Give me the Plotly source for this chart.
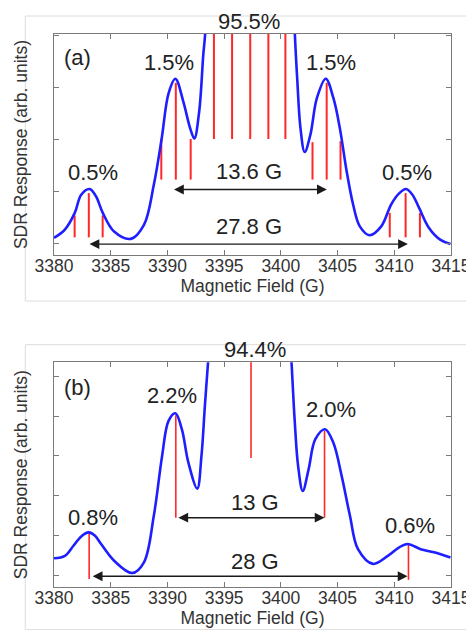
import plotly.graph_objects as go
from plotly.subplots import make_subplots

# ---------------- data: panel (a) ----------------
a_field = [3380.0, 3380.96, 3381.83, 3382.4, 3383.14, 3383.7, 3384.3, 3385.3, 3386.77, 3387.93, 3388.8,
           3389.5, 3390.1, 3390.7, 3391.4, 3392.0, 3392.37, 3392.8, 3393.16, 3393.33,
           3393.6, 3397.3, 3400.95, 3401.23, 3401.44, 3401.73, 3402.1, 3402.6, 3403.18,
           3403.96, 3404.63, 3405.2, 3405.8, 3406.37, 3406.96, 3407.83, 3408.85, 3409.72,
           3410.4, 3411.03, 3411.6, 3412.2, 3413.06, 3414.08, 3414.95]
a_signal = [0.10, 0.26, 0.58, 0.93, 1.04, 0.90, 0.58, 0.22, 0.08, 0.35, 1.12,
            2.02, 2.88, 3.16, 2.72, 2.21, 2.01, 2.53, 3.62, 4.04,
            6.0, 9.0, 6.0, 4.04, 3.17, 2.21, 1.75, 2.08, 2.79,
            3.16, 2.79, 2.21, 1.38, 0.74, 0.32, 0.15, 0.32, 0.74,
            0.95, 1.04, 0.93, 0.67, 0.29, 0.06, -0.02]

a_stick_field = [3381.82, 3383.07, 3384.29,
                 3389.46, 3390.74, 3392.05,
                 3394.1, 3395.7, 3397.3, 3398.9, 3400.4,
                 3402.79, 3404.04, 3405.26,
                 3409.6, 3411.0, 3412.26]
a_stick_top = [0.53, 0.96, 0.53,
               2.0, 3.08, 2.0,
               12, 12, 12, 12, 12,
               1.94, 3.08, 1.96,
               0.58, 0.96, 0.58]
a_stick_base = [0.11, 0.11, 0.11,
                1.22, 1.22, 1.22,
                2.0, 2.0, 2.0, 2.0, 2.0,
                1.22, 1.22, 1.22,
                0.11, 0.11, 0.11]

a_labels = ["95.5%", "1.5%", "1.5%", "0.5%", "0.5%", "(a)", "13.6 G", "27.8 G"]
a_label_x = [3397.2, 3390.1, 3404.4, 3383.4, 3411.1, 3382.1, 3397.2, 3397.2]
a_label_y = [4.26, 3.48, 3.48, 1.36, 1.36, 3.57, 1.38, 0.31]

a_arrow_start = [3390.45, 3383.0]
a_arrow_end = [3404.05, 3411.2]
a_arrow_y = [1.03, -0.02]

# ---------------- data: panel (b) ----------------
b_field = [3380.0, 3380.96, 3381.7, 3382.4, 3383.05, 3383.6, 3384.15, 3385.3, 3386.9, 3387.93, 3388.8,
           3389.53, 3390.1, 3390.7, 3391.27, 3391.85, 3392.63, 3393.0, 3393.3, 3393.6,
           3394.0, 3397.3, 3400.6, 3400.94, 3401.23, 3401.52, 3401.93, 3402.45, 3403.04,
           3403.9, 3404.63, 3405.36, 3406.09, 3406.8, 3408.12, 3409.43, 3410.4, 3411.17, 3412.33,
           3413.5, 3414.95]
b_signal = [0.43, 0.49, 0.74, 0.98, 1.08, 1.0, 0.79, 0.37, 0.06, 0.33, 1.5,
            3.0, 3.88, 4.07, 3.67, 2.83, 2.18, 3.0, 4.25, 5.42,
            7.0, 10.0, 7.0, 5.35, 3.84, 2.75, 2.12, 2.67, 3.42,
            3.67, 3.33, 2.5, 1.5, 0.66, 0.29, 0.49, 0.70, 0.79, 0.66,
            0.58, 0.45]

b_stick_field = [3383.1, 3390.74, 3397.37, 3403.85, 3411.25]
b_stick_top = [1.08, 4.02, 12, 3.63, 0.79]
b_stick_base = [-0.09, 1.45, 2.95, 1.45, -0.11]

b_labels = ["94.4%", "2.2%", "2.0%", "0.8%", "0.6%", "(b)", "13 G", "28 G"]
b_label_x = [3397.7, 3390.4, 3404.4, 3383.4, 3411.4, 3382.1, 3397.7, 3397.7]
b_label_y = [5.66, 4.52, 4.16, 1.46, 1.26, 4.72, 1.82, 0.34]

b_arrow_start = [3390.83, 3383.28]
b_arrow_end = [3403.85, 3411.17]
b_arrow_y = [1.45, -0.02]

x_ticks = [3380, 3385, 3390, 3395, 3400, 3405, 3410, 3415]

# ---------------- figure ----------------
FONT = "Liberation Sans, Arial, sans-serif"
BLUE = "rgb(30,30,255)"
RED = "rgb(255,40,40)"
TXT = "#222222"
AX = "#7a7a7a"

W, H = 474, 630
ML, MR, MT, MB = 46, 27, 26, 51
ph = H - MT - MB
pw = W - ML - MR
dom_a = [(H - MB - 247) / ph, 1.0]
dom_b = [0.0, (H - MB - 354.3) / ph]
range_a = [-0.23, 4.02]
range_b = [-0.29, 5.35]

fig = make_subplots(rows=2, cols=1, vertical_spacing=0.0)


def segs(xs, base, top):
    sx, sy = [], []
    for f, b, t in zip(xs, base, top):
        sx += [f, f, None]
        sy += [b, t, None]
    return sx, sy


def to_paper(v, rng, dom):
    return dom[0] + (v - rng[0]) / (rng[1] - rng[0]) * (dom[1] - dom[0])


panels = [
    (1, a_field, a_signal, a_stick_field, a_stick_base, a_stick_top, 2.0,
     a_labels, a_label_x, a_label_y, a_arrow_start, a_arrow_end, a_arrow_y, range_a, dom_a),
    (2, b_field, b_signal, b_stick_field, b_stick_base, b_stick_top, 1.6,
     b_labels, b_label_x, b_label_y, b_arrow_start, b_arrow_end, b_arrow_y, range_b, dom_b),
]

annotations = []
for (row, fx, fy, sxl, sb, st, sw, labs, lx, ly, ast, aen, ay, rng, dom) in panels:
    sx, sy = segs(sxl, sb, st)
    fig.add_trace(go.Scatter(x=sx, y=sy, mode="lines",
                             line=dict(color=RED, width=sw),
                             showlegend=False, hoverinfo="skip"), row=row, col=1)
    fig.add_trace(go.Scatter(x=fx, y=fy, mode="lines",
                             line=dict(color=BLUE, width=2.6, shape="spline", smoothing=1.0),
                             showlegend=False), row=row, col=1)
    xr = "x" if row == 1 else "x2"
    yr = "y" if row == 1 else "y2"
    for t, x, y in zip(labs, lx, ly):
        annotations.append(dict(text=t, x=x, y=to_paper(y, rng, dom), xref=xr, yref="paper",
                                xanchor="center", yanchor="middle", showarrow=False,
                                font=dict(family=FONT, size=22, color=TXT)))
    for s, e, y in zip(ast, aen, ay):
        annotations.append(dict(text="", x=e, y=y, ax=s, ay=y, xref=xr, yref=yr,
                                axref=xr, ayref=yr, showarrow=True, arrowhead=2,
                                arrowside="end+start", arrowsize=1.4, arrowwidth=1.4,
                                arrowcolor="#1a1a1a", standoff=0, startstandoff=0))

axis_common = dict(showline=True, linecolor=AX, linewidth=1, mirror="allticks",
                   ticks="inside", ticklen=5, tickcolor=AX, zeroline=False,
                   showgrid=False)

fig.update_xaxes(range=[3380, 3415], tickvals=x_ticks, ticktext=[str(v) for v in x_ticks],
                 tickfont=dict(family=FONT, size=17.5, color="#333333"),
                 ticklabelstandoff=-5,
                 title=dict(text="Magnetic Field (G)", standoff=2,
                            font=dict(family=FONT, size=17.5, color="#333333")),
                 **axis_common)
fig.update_yaxes(showticklabels=False, dtick=1, tick0=0,
                 title=dict(text="SDR Response (arb. units)", standoff=20,
                            font=dict(family=FONT, size=17.5, color="#333333")),
                 **axis_common)
fig.update_layout(
    xaxis=dict(anchor="y"), xaxis2=dict(anchor="y2"),
    yaxis=dict(domain=dom_a, range=range_a),
    yaxis2=dict(domain=dom_b, range=range_b),
)


def px2paper(px, py):
    return (px - ML) / pw, (H - MB - py) / ph


shapes = []
for (x0p, y0p, x1p, y1p) in [(17, 8, 470, 293), (17, 336.7, 470, 621.7)]:
    a0 = px2paper(x0p, y1p)
    a1 = px2paper(x1p, y0p)
    shapes.append(dict(type="rect", xref="paper", yref="paper", x0=a0[0], y0=a0[1],
                       x1=a1[0], y1=a1[1], line=dict(color="#dcdcdc", width=1),
                       layer="below"))

fig.update_layout(
    width=W, height=H, margin=dict(l=ML, r=MR, t=MT, b=MB),
    paper_bgcolor="white", plot_bgcolor="white",
    annotations=annotations, shapes=shapes,
    font=dict(family=FONT, color=TXT),
)

fig.write_html("out.html")
